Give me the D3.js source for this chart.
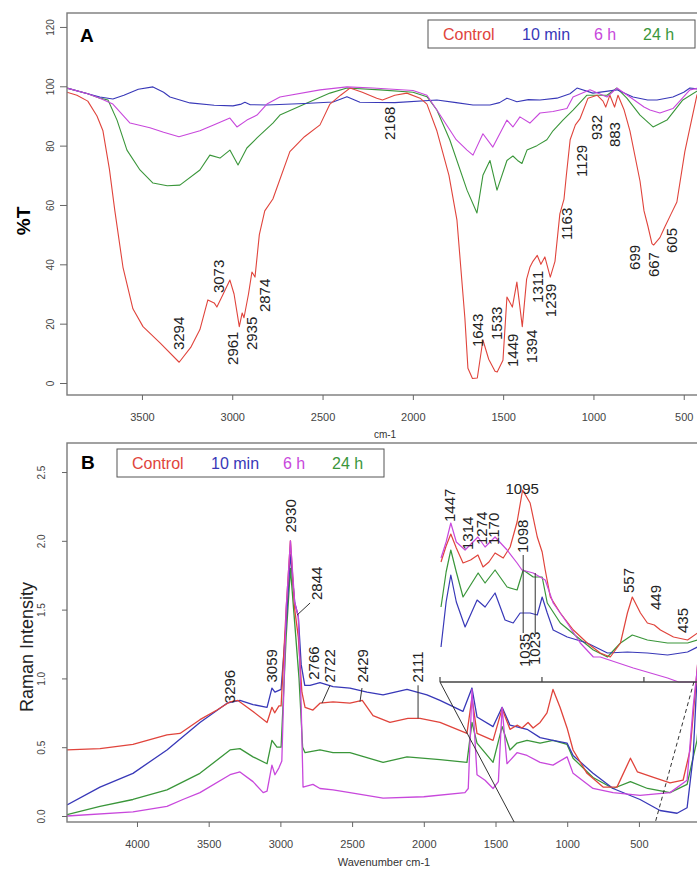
<!DOCTYPE html>
<html>
<head>
<meta charset="utf-8">
<script src="https://cdn.jsdelivr.net/npm/d3@7"></script>
<style>
  body { margin: 0; background: #fff; }
  svg { display: block; }
  text { font-family: "Liberation Sans", Arial, sans-serif; }
</style>
</head>
<body>
<svg id="fig" width="697" height="869"></svg>
<script>
// ---- series ----
const seriesNames = ["Control", "10 min", "6 h", "24 h"];
const seriesColors = ["#e0443c", "#3838b8", "#c848dc", "#3a963a"];

// ---- FTIR (%T vs wavenumber, cm-1) ----
const ftirControl = [[3915,98],[3860,97],[3800,95],[3749,90],[3716,85],[3680,72],[3650,58],[3605,39],[3550,25],[3494,19],[3400,13.5],[3294,7],[3230,12],[3179,18],[3135,28],[3100,27],[3085,25.6],[3050,30],[3013,34.7],[2990,30],[2961,19],[2945,23.6],[2935,22],[2910,30],[2891,37.4],[2874,35.7],[2850,50],[2820,58],[2775,62],[2681,78],[2600,83],[2514,87],[2459,94],[2400,97],[2348,99.4],[2280,98],[2200,96],[2168,95.4],[2100,97],[2033,97.7],[1960,96],[1922,94],[1867,85],[1800,70],[1756,55],[1712,22],[1695,5],[1670,1.5],[1643,1.7],[1612,14.5],[1580,8],[1545,4],[1533,3.7],[1501,7.7],[1479,29],[1449,25.6],[1424,34],[1394,19],[1370,35],[1352,39],[1335,41],[1311,43],[1291,40],[1269,42.5],[1239,35.7],[1213,41],[1186,57],[1163,62],[1150,70],[1129,82],[1100,87],[1075,89],[1030,96],[980,97],[947,95],[932,93],[909,97],[883,93],[864,97],[830,92],[798,85],[742,68],[720,58],[699,53],[676,47],[667,46.5],[632,49],[605,52.6],[570,57],[538,61],[494,78],[466,86],[427,97],[410,99]];
const ftir10min = [[3915,99.4],[3800,97.5],[3733,96.4],[3661,95.7],[3600,97],[3520,99],[3439,99.8],[3380,98],[3345,96.4],[3234,94.4],[3100,93.6],[2996,93.4],[2950,94],[2930,94.6],[2900,93.8],[2808,93.7],[2600,94.2],[2442,94.7],[2365,96.5],[2293,94.6],[2100,94.5],[1867,95.4],[1760,94.5],[1667,93.7],[1573,93.7],[1520,94.5],[1479,96],[1424,94.8],[1360,95.5],[1296,95.4],[1202,96],[1130,97.5],[1091,99.4],[1003,97.7],[940,98.2],[870,98.8],[781,96.4],[700,95.4],[648,95.4],[560,96.4],[500,98],[466,99.4],[410,99]];
const ftir6h = [[3915,99.4],[3800,97.5],[3733,96],[3661,94],[3566,87.6],[3456,86],[3380,84.5],[3295,83],[3179,85],[3100,87],[3013,89.3],[2974,86.3],[2919,88.6],[2863,90.3],[2808,94],[2736,96.4],[2514,98.8],[2365,99.8],[2221,99.4],[1999,98.6],[1922,97],[1867,92],[1760,82],[1700,78.5],[1667,76.8],[1612,84],[1557,79.5],[1479,88.6],[1446,86.3],[1407,89.7],[1352,87.6],[1296,91],[1224,91.5],[1147,92.5],[1113,96.4],[1019,98.8],[925,96.4],[870,99.4],[798,96.4],[720,93],[687,92],[632,91],[560,92.5],[466,98.8],[410,99.5]];
const ftir24h = [[3915,99.4],[3800,97.5],[3733,96],[3688,95.4],[3638,88.6],[3583,78.5],[3511,71.8],[3439,67.4],[3360,66.5],[3290,66.7],[3179,71.8],[3124,76.8],[3068,75.8],[3013,78.5],[2968,73.5],[2919,79.2],[2863,82.6],[2775,87.6],[2736,90.3],[2586,94.4],[2459,97.7],[2365,99.4],[2182,98.8],[1999,98],[1922,96.5],[1867,92],[1795,81.9],[1700,65],[1645,57.3],[1612,70],[1573,75],[1534,65],[1479,75],[1446,76.5],[1420,75],[1396,74],[1368,78.5],[1313,80],[1258,82],[1224,85],[1169,88.6],[1113,92],[1036,97],[925,97],[870,99.4],[815,96],[742,90.3],[670,86.3],[593,88.6],[505,95.4],[410,99]];

// ---- Raman (intensity vs wavenumber, cm-1) ----
const ramanControl = [[4488,0.48],[4258,0.49],[4028,0.52],[3791,0.59],[3700,0.6],[3561,0.70],[3442,0.77],[3351,0.83],[3296,0.84],[3191,0.76],[3093,0.68],[3059,0.79],[3040,0.75],[3010,0.80],[2995,0.80],[2960,1.5],[2930,2.0],[2900,1.5],[2875,1.3],[2850,0.9],[2828,0.79],[2773,0.77],[2724,0.82],[2633,0.83],[2515,0.82],[2429,0.84],[2354,0.73],[2236,0.68],[2111,0.71],[2026,0.71],[1887,0.68],[1699,0.6],[1664,0.86],[1629,0.6],[1517,0.55],[1454,0.78],[1399,0.63],[1350,0.66],[1315,0.64],[1273,0.68],[1238,0.64],[1189,0.68],[1141,0.75],[1099,0.92],[1050,0.79],[1001,0.64],[959,0.48],[862,0.31],[750,0.21],[653,0.21],[559,0.42],[510,0.32],[398,0.28],[283,0.24],[192,0.26],[143,0.48],[95,1.05],[74,1.3]];
const raman10min = [[4488,0.08],[4258,0.21],[4028,0.31],[3791,0.48],[3561,0.68],[3372,0.82],[3282,0.84],[3191,0.81],[3093,0.79],[3059,0.93],[3038,0.90],[2995,0.92],[2960,1.4],[2930,1.9],[2900,1.55],[2875,1.45],[2855,1.1],[2830,0.95],[2793,0.95],[2724,0.97],[2633,0.94],[2515,0.93],[2396,0.9],[2284,0.88],[2117,0.92],[1978,0.88],[1887,0.84],[1727,0.76],[1664,0.93],[1629,0.72],[1517,0.65],[1454,0.79],[1399,0.66],[1280,0.63],[1189,0.57],[1099,0.55],[1001,0.53],[959,0.44],[820,0.31],[680,0.2],[492,0.12],[353,0.04],[234,0.02],[164,0.06],[122,0.43],[95,1.0],[74,1.3]];
const raman6h = [[4488,0.0],[4028,0.03],[3791,0.07],[3680,0.12],[3561,0.17],[3351,0.30],[3282,0.32],[3191,0.25],[3120,0.17],[3093,0.18],[3059,0.37],[3038,0.30],[3010,0.35],[2990,0.4],[2960,1.5],[2930,2.0],[2900,1.55],[2875,1.45],[2855,0.8],[2842,0.21],[2773,0.23],[2724,0.2],[2633,0.19],[2515,0.17],[2284,0.13],[2000,0.14],[1713,0.17],[1690,0.2],[1664,0.92],[1629,0.3],[1573,0.26],[1517,0.2],[1480,0.25],[1454,0.79],[1420,0.38],[1350,0.46],[1280,0.44],[1189,0.39],[1099,0.37],[1001,0.43],[959,0.31],[820,0.2],[680,0.17],[492,0.15],[283,0.17],[164,0.26],[122,0.79],[95,1.05],[74,1.3]];
const raman24h = [[4488,0.01],[4258,0.07],[4028,0.12],[3791,0.19],[3561,0.31],[3351,0.48],[3282,0.49],[3191,0.43],[3093,0.38],[3059,0.55],[3024,0.5],[2995,0.5],[2960,1.3],[2930,1.8],[2900,1.4],[2870,1.0],[2845,0.5],[2828,0.46],[2724,0.48],[2633,0.46],[2515,0.46],[2284,0.39],[2117,0.43],[1887,0.41],[1699,0.39],[1664,0.68],[1629,0.53],[1517,0.39],[1454,0.65],[1399,0.48],[1350,0.53],[1280,0.55],[1189,0.53],[1099,0.55],[1001,0.52],[959,0.42],[820,0.28],[680,0.2],[559,0.25],[440,0.2],[283,0.17],[164,0.23],[95,0.55],[74,0.8]];

// ---- Raman inset, 1500-250 cm-1 (relative scale) ----
const insetControl = [[1495,0.60],[1470,0.68],[1447,0.74],[1420,0.67],[1387,0.595],[1350,0.61],[1314,0.635],[1289,0.575],[1260,0.60],[1230,0.645],[1190,0.62],[1156,0.675],[1122,0.80],[1095,0.96],[1058,0.895],[1023,0.725],[999,0.65],[984,0.56],[959,0.425],[910,0.345],[846,0.26],[778,0.195],[714,0.145],[665,0.125],[615,0.195],[581,0.345],[557,0.425],[517,0.345],[483,0.295],[449,0.285],[419,0.26],[355,0.225],[286,0.21],[237,0.245],[225,0.26]];
const inset10min = [[1495,0.175],[1470,0.40],[1447,0.535],[1420,0.40],[1377,0.275],[1318,0.41],[1279,0.375],[1230,0.445],[1181,0.31],[1141,0.295],[1107,0.345],[1058,0.345],[1023,0.335],[999,0.425],[974,0.345],[945,0.26],[876,0.225],[778,0.195],[679,0.145],[581,0.15],[483,0.145],[384,0.135],[286,0.15],[237,0.175],[225,0.18]];
const inset6h = [[1495,0.62],[1470,0.70],[1447,0.795],[1420,0.70],[1377,0.66],[1314,0.725],[1279,0.675],[1230,0.725],[1171,0.66],[1122,0.595],[1098,0.56],[1043,0.545],[1009,0.525],[984,0.51],[945,0.395],[876,0.295],[812,0.195],[748,0.125],[714,0.125],[552,0.07],[384,0.02],[330,0.0],[225,0.0]];
const inset24h = [[1495,0.375],[1470,0.55],[1447,0.66],[1420,0.55],[1387,0.425],[1313,0.545],[1279,0.495],[1230,0.56],[1171,0.475],[1122,0.46],[1092,0.56],[1043,0.525],[999,0.525],[974,0.395],[910,0.295],[827,0.225],[748,0.16],[679,0.125],[615,0.195],[557,0.235],[483,0.21],[384,0.195],[286,0.195],[237,0.21],[225,0.215]];

// ---- axis ticks ----
const ftirTicksX = [3500, 3000, 2500, 2000, 1500, 1000, 500];
const ftirTicksY = [0, 20, 40, 60, 80, 100, 120];
const ramanTicksX = [4000, 3500, 3000, 2500, 2000, 1500, 1000, 500];
const ramanTicksY = [0, 0.5, 1, 1.5, 2, 2.5];
const insetTicksX = [1500, 1000, 500];

// ---- peak labels: [text, drawn at (cm-1), label foot value] ----
const ftirPeaks = [["3294",3294,11.1],["3073",3073,30.3],["2961",2996,6.1],["2935",2891,11.1],["2874",2819,23.9],["2168",2127,81.9],["1643",1643,12.1],["1533",1533,14.5],["1449",1449,5.4],["1394",1341,6.7],["1311",1311,27],["1239",1239,22.2],["1163",1147,48.2],["1129",1064,69.4],["932",981,81.9],["883",883,79.5],["699",770,38.1],["667",667,35.7],["605",565,43.8]];
const ramanPeaks = [["3296",3351,0.82],["3059",3059,0.97],["2930",2930,2.06],["2844",2745,1.57],["2766",2766,0.99],["2722",2654,0.97],["2429",2429,0.97],["2111",2040,0.97]];
const ramanLeaders = [[2793,1.548,2884,1.46],[2654,0.95,2710,0.82],[2431,0.93,2445,0.83],[2040,0.95,2040,0.71]];
const insetPeaks = [["1447",1451,0.80],["1314",1362,0.66],["1274",1294,0.685],["1170",1235,0.685],["1098",1092,0.645],["1035",1082,0.075],["1023",1033,0.085],["557",575,0.445],["449",443,0.36],["435",311,0.245]];
const insetTopPeak = ["1095", 1097, 0.94];
const insetLeaders = [[1092,0.635,1092,0.245],[1033,0.545,1033,0.245]];
const zoomSpan = [1370, 385];   // main-axis wavenumbers the inset is tied to

// ---- layout ----
const svg = d3.select("#fig");
const PL = 67, PR = 700;
const xA = d3.scaleLinear().domain([3915, 410]).range([PL, PR]);
const yA = d3.scaleLinear().domain([-4.04, 124.7]).range([395, 13]);
const xB = d3.scaleLinear().domain([4488, 74]).range([PL, PR]);
const yB = d3.scaleLinear().domain([-0.0436, 2.711]).range([822, 443]);
const xI = d3.scaleLinear().domain([1500, 225]).range([440, 700]);
const yI = d3.scaleLinear().domain([0, 1]).range([682, 482]);

const defs = svg.append("defs");
defs.append("clipPath").attr("id", "clipA").append("rect")
  .attr("x", PL).attr("y", 13).attr("width", PR - PL).attr("height", 382);
defs.append("clipPath").attr("id", "clipB").append("rect")
  .attr("x", PL).attr("y", 443).attr("width", PR - PL).attr("height", 379);
defs.append("clipPath").attr("id", "clipI").append("rect")
  .attr("x", 440).attr("y", 470).attr("width", 260).attr("height", 213);

const drawOrder = [3, 1, 0, 2];

function drawSeries(clip, sets, x, y, width) {
  const g = svg.append("g").attr("clip-path", `url(#${clip})`);
  const line = d3.line().x(d => x(d[0])).y(d => y(d[1]));
  g.selectAll("path").data(drawOrder).join("path")
    .attr("d", i => line(sets[i]))
    .attr("fill", "none")
    .attr("stroke", i => seriesColors[i])
    .attr("stroke-width", width)
    .attr("stroke-linejoin", "round");
}

function xAxis(x, y0, ticks, pad) {
  const g = svg.append("g").attr("transform", `translate(0,${y0})`)
    .call(d3.axisBottom(x).tickValues(ticks).tickFormat(d3.format("d"))
      .tickSize(5).tickPadding(pad).tickSizeOuter(0));
  g.select(".domain").remove();
  g.attr("font-family", null).attr("font-size", null);
  g.selectAll(".tick line").attr("stroke", "#666");
  g.selectAll(".tick text").attr("fill", "#444").attr("font-size", 11);
}

function yAxis(y, ticks, fmt, tick, off) {
  const g = svg.append("g").attr("transform", `translate(${PL},0)`)
    .call(d3.axisLeft(y).tickValues(ticks).tickFormat(fmt).tickSize(tick).tickSizeOuter(0));
  g.select(".domain").remove();
  g.attr("font-family", null).attr("font-size", null);
  g.selectAll(".tick line").attr("stroke", "#666");
  g.selectAll(".tick text")
    .attr("x", null).attr("dy", "0.35em")
    .attr("text-anchor", "middle")
    .attr("transform", `translate(${-off},0) rotate(-90)`)
    .attr("fill", "#444").attr("font-size", 10);
}

function frame(y0, y1) {
  svg.append("rect").attr("x", PL).attr("y", y0)
    .attr("width", PR - PL).attr("height", y1 - y0)
    .attr("fill", "none").attr("stroke", "#7a7a7a").attr("stroke-width", 1.4);
}

function peakLabels(list, x, y, size) {
  svg.append("g").selectAll("text").data(list).join("text")
    .attr("transform", d => `translate(${x(d[1])},${y(d[2])}) rotate(-90)`)
    .attr("dy", "0.35em")
    .attr("font-size", size)
    .attr("fill", "#222")
    .text(d => d[0]);
}

function leaders(list, x, y) {
  svg.append("g").selectAll("line").data(list).join("line")
    .attr("x1", d => x(d[0])).attr("y1", d => y(d[1]))
    .attr("x2", d => x(d[2])).attr("y2", d => y(d[3]))
    .attr("stroke", "#333").attr("stroke-width", 1);
}

function legend(x0, y0) {
  const g = svg.append("g").attr("transform", `translate(${x0},${y0})`);
  g.append("rect").attr("width", 267).attr("height", 28)
    .attr("fill", "#fff").attr("stroke", "#555").attr("stroke-width", 1);
  const offs = [15, 94, 166, 215];
  g.selectAll("text").data(seriesNames).join("text")
    .attr("x", (d, i) => offs[i]).attr("y", 20)
    .attr("font-size", 16)
    .attr("fill", (d, i) => seriesColors[i])
    .text(d => d);
}

// ---- panel A: FTIR ----
drawSeries("clipA", [ftirControl, ftir10min, ftir6h, ftir24h], xA, yA, 1.1);
frame(13, 395);
xAxis(xA, 395, ftirTicksX, 13);
yAxis(yA, ftirTicksY, d3.format("d"), 7, 17);
peakLabels(ftirPeaks, xA, yA, 15);
legend(428, 20);
svg.append("text").attr("x", 80).attr("y", 42)
  .attr("font-size", 19).attr("font-weight", "bold").text("A");
svg.append("text").attr("transform", "translate(23,221) rotate(-90)")
  .attr("dy", "0.35em").attr("text-anchor", "middle")
  .attr("font-size", 19).attr("font-weight", "bold").text("%T");
svg.append("text").attr("x", 385).attr("y", 438)
  .attr("text-anchor", "middle").attr("font-size", 10).attr("fill", "#333").text("cm-1");

// ---- panel B: Raman ----
drawSeries("clipB", [ramanControl, raman10min, raman6h, raman24h], xB, yB, 1.3);
frame(443, 822);
xAxis(xB, 822, ramanTicksX, 13);
yAxis(yB, ramanTicksY, d3.format(".1f"), 5, 26);
peakLabels(ramanPeaks, xB, yB, 15);
leaders(ramanLeaders, xB, yB);
legend(117, 449);
svg.append("text").attr("x", 81).attr("y", 469)
  .attr("font-size", 19).attr("font-weight", "bold").text("B");
svg.append("text").attr("transform", "translate(27,647) rotate(-90)")
  .attr("dy", "0.35em").attr("text-anchor", "middle")
  .attr("font-size", 18).attr("fill", "#222").text("Raman Intensity");
svg.append("text").attr("x", 384).attr("y", 866)
  .attr("text-anchor", "middle").attr("font-size", 11).attr("fill", "#333").text("Wavenumber cm-1");

// ---- inset: enlarged 1500-250 cm-1 region ----
drawSeries("clipI", [insetControl, inset10min, inset6h, inset24h], xI, yI, 1.2);
svg.append("line").attr("x1", xI(1500)).attr("x2", 700)
  .attr("y1", yI(0)).attr("y2", yI(0))
  .attr("stroke", "#444").attr("stroke-width", 1.3);
svg.append("g").selectAll("line").data(insetTicksX).join("line")
  .attr("x1", d => xI(d)).attr("x2", d => xI(d))
  .attr("y1", yI(0)).attr("y2", yI(0) - 5)
  .attr("stroke", "#444").attr("stroke-width", 1.2);
peakLabels(insetPeaks, xI, yI, 15);
leaders(insetLeaders, xI, yI);
svg.append("text").attr("x", xI(insetTopPeak[1])).attr("y", yI(insetTopPeak[2]))
  .attr("text-anchor", "middle").attr("font-size", 15).attr("fill", "#222")
  .text(insetTopPeak[0]);

// connector lines from the inset to the main axis
svg.append("line").attr("x1", xI(1500)).attr("y1", yI(0))
  .attr("x2", xB(zoomSpan[0])).attr("y2", yB.range()[0])
  .attr("stroke", "#333").attr("stroke-width", 1);
svg.append("line").attr("x1", xI(255)).attr("y1", yI(0))
  .attr("x2", xB(zoomSpan[1])).attr("y2", yB.range()[0])
  .attr("stroke", "#333").attr("stroke-width", 1).attr("stroke-dasharray", "4,3");
</script>
</body>
</html>
